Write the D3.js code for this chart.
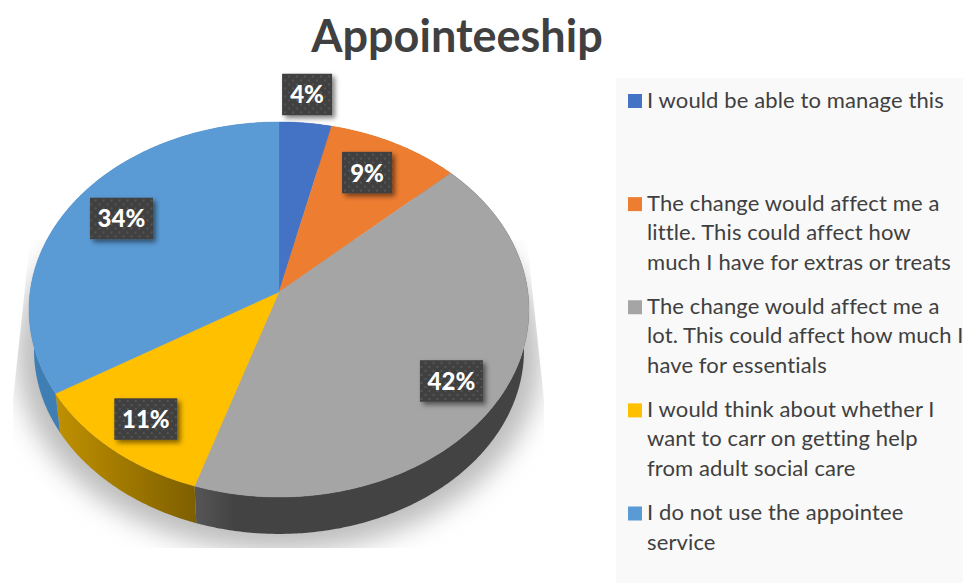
<!DOCTYPE html>
<html><head><meta charset="utf-8">
<script src="https://cdn.jsdelivr.net/npm/d3@7/dist/d3.min.js"></script>
<style>html,body{margin:0;padding:0;background:#fff;overflow:hidden}svg{display:block}</style>
</head><body><svg id="c" width="963" height="583"></svg>
<script>
const titleText = "Appointeeship";
const categories = ["I would be able to manage this",
  "The change would affect me a little. This could affect how much I have for extras or treats",
  "The change would affect me a lot. This could affect how much I have for essentials",
  "I would think about whether I want to carr on getting help from adult social care",
  "I do not use the appointee service"];
const legendLines = [
  ["I would be able to manage this"],
  ["The change would affect me a","little. This could affect how","much I have for extras or treats"],
  ["The change would affect me a","lot. This could affect how much I","have for essentials"],
  ["I would think about whether I","want to carr on getting help","from adult social care"],
  ["I do not use the appointee","service"]];
const values = [3.7, 9.4, 41.9, 11.3, 33.7];
const labels = ["4%","9%","42%","11%","34%"];
const colors = ["#4472c4","#ed7d31","#a5a5a5","#ffc000","#5b9bd5"];
const sideFrom = ["#3a62a8","#c9661f","#565656","#bf9000","#3f7fb5"];
const sideTo   = ["#2f5597","#a85515","#434343","#7f6000","#41719c"];
const labelRadius = [1.186,0.78,0.806,0.816,0.775];
const labelNudgeDeg = [-0.6,-1.4,2.06,-0.28,2.66];

const svg = d3.select("#c");
const defs = svg.append("defs");
const cx=279, cy=292, K=-0.0933, A=185.9, B=248.9, baseScale=0.98, baseDrop=41;

function project(theta,r,s=1,drop=0){
  const u=r*Math.sin(theta), v=-r*Math.cos(theta), d=1+K*v;
  return [cx+s*B*u/d, cy+drop+s*A*v/d];
}
const pie = d3.pie().sort(null).value(d=>d)(values);
const line = d3.line();
function arcPts(a0,a1,s,drop){
  const n=Math.max(2,Math.ceil((a1-a0)/0.01));
  return d3.range(n+1).map(i=>project(a0+(a1-a0)*i/n,1,s,drop));
}

// shadow
defs.append("filter").attr("id","blur").attr("x","-20%").attr("y","-20%").attr("width","140%").attr("height","140%")
  .append("feGaussianBlur").attr("stdDeviation",13);
defs.append("clipPath").attr("id","shClip").append("path")
  .attr("d",line([[30,240],[13,400],[13,548],[544,548],[544,400],[527,240]])+"Z");
const sh = svg.append("g").attr("clip-path","url(#shClip)");
sh.append("path").attr("filter","url(#blur)").attr("fill","#bdbdbd")
  .attr("d",line(arcPts(0,2*Math.PI,1.05,44))+"Z");

// side walls
pie.forEach((p,i)=>{
  const g=defs.append("linearGradient").attr("id","sg"+i).attr("gradientUnits","userSpaceOnUse");
  const ext=d3.extent(arcPts(p.startAngle,p.endAngle,1,0),d=>d[0]);
  g.attr("x1",ext[0]).attr("x2",ext[1]).attr("y1",0).attr("y2",0);
  g.append("stop").attr("offset","0").attr("stop-color",sideFrom[i]);
  g.append("stop").attr("offset",i===2?"0.12":"1").attr("stop-color",sideTo[i]);
});
svg.append("g").selectAll("path").data(pie).join("path")
  .attr("fill",(d,i)=>`url(#sg${i})`)
  .attr("d",d=>line(arcPts(d.startAngle,d.endAngle,1,0).concat(arcPts(d.startAngle,d.endAngle,baseScale,baseDrop).reverse()))+"Z");

// top surface
svg.append("g").selectAll("path").data(pie).join("path")
  .attr("fill",(d,i)=>colors[i]).attr("stroke",(d,i)=>colors[i]).attr("stroke-width",0.4)
  .attr("d",d=>line([[cx,cy]].concat(arcPts(d.startAngle,d.endAngle,1,0)))+"Z");

// title
svg.append("text").attr("x",457).attr("y",52).attr("text-anchor","middle")
  .attr("font-family","Lato").attr("font-weight",700).attr("font-size",45).attr("fill","#404040").text(titleText);

// data labels
const pat=defs.append("pattern").attr("id","dots").attr("patternUnits","userSpaceOnUse").attr("width",8).attr("height",8);
pat.append("rect").attr("width",8).attr("height",8).attr("fill","#404040");
pat.append("circle").attr("cx",2).attr("cy",2).attr("r",1).attr("fill","#5a5a5a");
pat.append("circle").attr("cx",6).attr("cy",6).attr("r",1).attr("fill","#5a5a5a");
const fs=defs.append("filter").attr("id","ds").attr("x","-30%").attr("y","-30%").attr("width","170%").attr("height","170%");
fs.append("feDropShadow").attr("dx",3).attr("dy",3).attr("stdDeviation",2.5).attr("flood-color","#000").attr("flood-opacity",0.5);

const lab=svg.append("g").selectAll("g").data(pie).join("g")
  .attr("transform",(d,i)=>{
    const mid=(d.startAngle+d.endAngle)/2+labelNudgeDeg[i]*Math.PI/180;
    return `translate(${project(mid,labelRadius[i])})`;
  });
lab.append("rect").attr("fill","url(#dots)").attr("filter","url(#ds)")
  .attr("height",41.5).attr("y",-20.75)
  .attr("width",(d,i)=>labels[i].length>2?63:50).attr("x",(d,i)=>labels[i].length>2?-31.5:-25);
lab.append("text").attr("text-anchor","middle").attr("y",9).attr("fill","#fff")
  .attr("font-family","Lato").attr("font-weight",900).attr("font-size",24).text((d,i)=>labels[i]);

// legend
svg.append("rect").attr("x",616).attr("y",78).attr("width",347).attr("height",505).attr("fill","#f9f9f9");
const ly=d3.scalePoint().domain(categories).range([94,506.5]);
const lg=svg.append("g").selectAll("g").data(categories).join("g")
  .attr("transform",d=>`translate(628,${ly(d)})`);
lg.append("rect").attr("width",14).attr("height",14).attr("fill",(d,i)=>colors[i]);
lg.each(function(d,i){
  d3.select(this).selectAll("text").data(legendLines[i]).join("text")
    .attr("x",19).attr("y",(t,j)=>13.5+j*29.6)
    .attr("font-family","Lato").attr("font-size",22).attr("letter-spacing",0.12).attr("fill","#404040").text(t=>t);
});
</script></body></html>
